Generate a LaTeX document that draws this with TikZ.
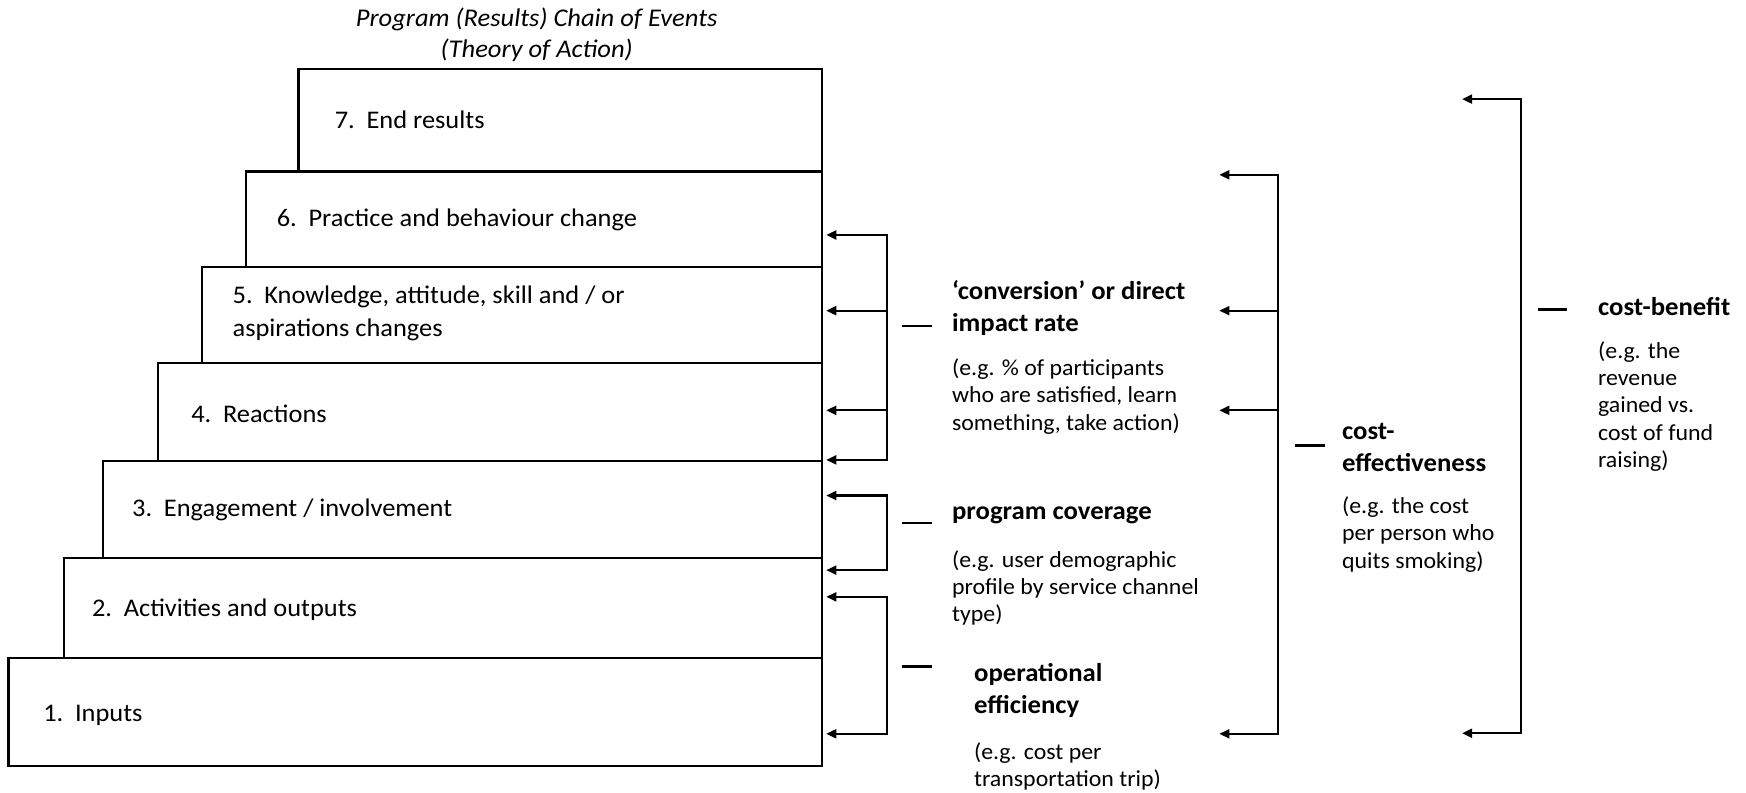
\documentclass[tikz,border=0pt]{standalone}
\usepackage{fontspec}
\setmainfont{Carlito}[FakeStretch=1.04]
\usetikzlibrary{arrows.meta}
\begin{document}
\begin{tikzpicture}[x=1pt,y=-1pt,
  box/.style={draw,line width=2pt,anchor=north west,inner sep=0pt,outer sep=0pt},
  btxt/.style={anchor=west,inner sep=0pt,align=left,font=\fontsize{22.8}{30}\selectfont},
  ttl/.style={align=center,inner sep=0pt,font=\fontsize{22.9}{28}\selectfont\itshape},
  lbl/.style={anchor=west,inner sep=0pt,align=left,font=\fontsize{23.1}{28.7}\selectfont\bfseries},
  dsc/.style={anchor=west,inner sep=0pt,align=left,font=\fontsize{20.6}{24.5}\selectfont},
  tipa/.tip={Triangle[length=9pt,width=8pt]},
  arr/.style={line width=2pt,-tipa,shorten >=4pt},
  arrs/.style={line width=2pt,tipa-tipa,shorten >=4pt,shorten <=4pt},
  arrb/.style={line width=2pt,tipa-tipa},
  arrone/.style={line width=2pt,-tipa},
  dashl/.style={line width=2pt}
]
\useasboundingbox (0,0) rectangle (1568,712);
\newcommand{\num}[1]{\makebox[28.5pt][l]{#1}}

% title
\node[ttl] (title) at (482,31.5) {Program (Results) Chain of Events\\(Theory of Action)};

% staircase boxes
\node[box,minimum width=470pt,minimum height=92pt] (b7) at (268,62) {};
\node[box,minimum width=517.4pt,minimum height=86pt] (b6) at (220.6,154) {};
\node[box,minimum width=556.6pt,minimum height=86.3pt] (b5) at (181.4,240) {};
\node[box,minimum width=596.3pt,minimum height=87.7pt] (b4) at (141.7,326.3) {};
\node[box,minimum width=645.2pt,minimum height=87.4pt] (b3) at (92.8,414) {};
\node[box,minimum width=680.3pt,minimum height=89.8pt] (b2) at (57.7,501.4) {};
\node[box,minimum width=730.3pt,minimum height=96.8pt] (b1) at (7.7,591.2) {};

\node[btxt] (t7) at (300.5,107.8) {\num{7.}End results};
\node[btxt] (t6) at (248.4,197.6) {\num{6.}Practice and behaviour change};
\node[btxt] (t5) at (208.7,281.4) {\num{5.}Knowledge, attitude, skill and / or\\aspirations changes};
\node[btxt] (t4) at (171.6,371.2) {\num{4.}Reactions};
\node[btxt] (t3) at (118.5,458) {\num{3.}Engagement / involvement};
\node[btxt] (t2) at (82.5,547.8) {\num{2.}Activities and outputs};
\node[btxt] (t1) at (38.7,642) {\num{1.}Inputs};

% group 1: conversion
\coordinate (g1a) at (796.5,211);
\coordinate (g1b) at (796.5,279);
\coordinate (g1c) at (796.5,368.5);
\coordinate (g1d) at (796.5,413);
\draw[arrs] (g1a -| b6.east) -- (g1a) -- (g1d) -- (g1d -| b4.east);
\draw[arr] (g1b) -- (g1b -| b5.east);
\draw[arr] (g1c) -- (g1c -| b4.east);

% group 2: coverage
\coordinate (g2a) at (796.5,445);
\coordinate (g2d) at (796.5,512);
\draw[arrs] (g2a -| b3.east) -- (g2a) -- (g2d) -- (g2d -| b2.east);

% group 3: operational efficiency
\coordinate (g3a) at (796.5,536);
\coordinate (g3d) at (796.5,659);
\draw[arrs] (g3a -| b2.east) -- (g3a) -- (g3d) -- (g3d -| b1.east);

% group 4: cost-effectiveness
\coordinate (tip4) at (1095,0);
\coordinate (g4a) at (1148,157);
\coordinate (g4b) at (1148,279);
\coordinate (g4c) at (1148,368.5);
\coordinate (g4d) at (1148,659);
\draw[arrb] (g4a -| tip4) -- (g4a) -- (g4d) -- (g4d -| tip4);
\draw[arrone] (g4b) -- (g4b -| tip4);
\draw[arrone] (g4c) -- (g4c -| tip4);

% group 5: cost-benefit
\coordinate (tip5) at (1313,0);
\coordinate (g5a) at (1366,89);
\coordinate (g5d) at (1366,658.5);
\draw[arrb] (g5a -| tip5) -- (g5a) -- (g5d) -- (g5d -| tip5);

% dashes
\draw[dashl] (810,293) -- (837,293);
\draw[dashl] (810,469.7) -- (837,469.7);
\draw[dashl] (810,598.5) -- (837,598.5);
\draw[dashl] (1163,400) -- (1190,400);
\draw[dashl] (1381,278) -- (1407,278);

% labels
\node[lbl] (l1) at (854.8,276.2) {‘conversion’ or direct\\impact rate};
\node[dsc] (d1) at (854.8,356) {(e.g. \% of participants\\who are satisfied, learn\\something, take action)};
\node[lbl] (l2) at (854.8,462.5) {program coverage};
\node[dsc] (d2) at (854.8,528) {(e.g. user demographic\\profile by service channel\\type)};
\node[lbl] (l3) at (874.6,620.5) {operational\\efficiency};
\node[dsc] (d3) at (874.6,688) {(e.g. cost per\\transportation trip)};
\node[lbl] (l4) at (1205,401.5) {cost-\\effectiveness};
\node[dsc] (d4) at (1205,480) {(e.g. the cost\\per person who\\quits smoking)};
\node[lbl] (l5) at (1435,275) {cost-benefit};
\node[dsc] (d5) at (1435,365) {(e.g. the\\revenue\\gained vs.\\cost of fund\\raising)};
\end{tikzpicture}
\end{document}
